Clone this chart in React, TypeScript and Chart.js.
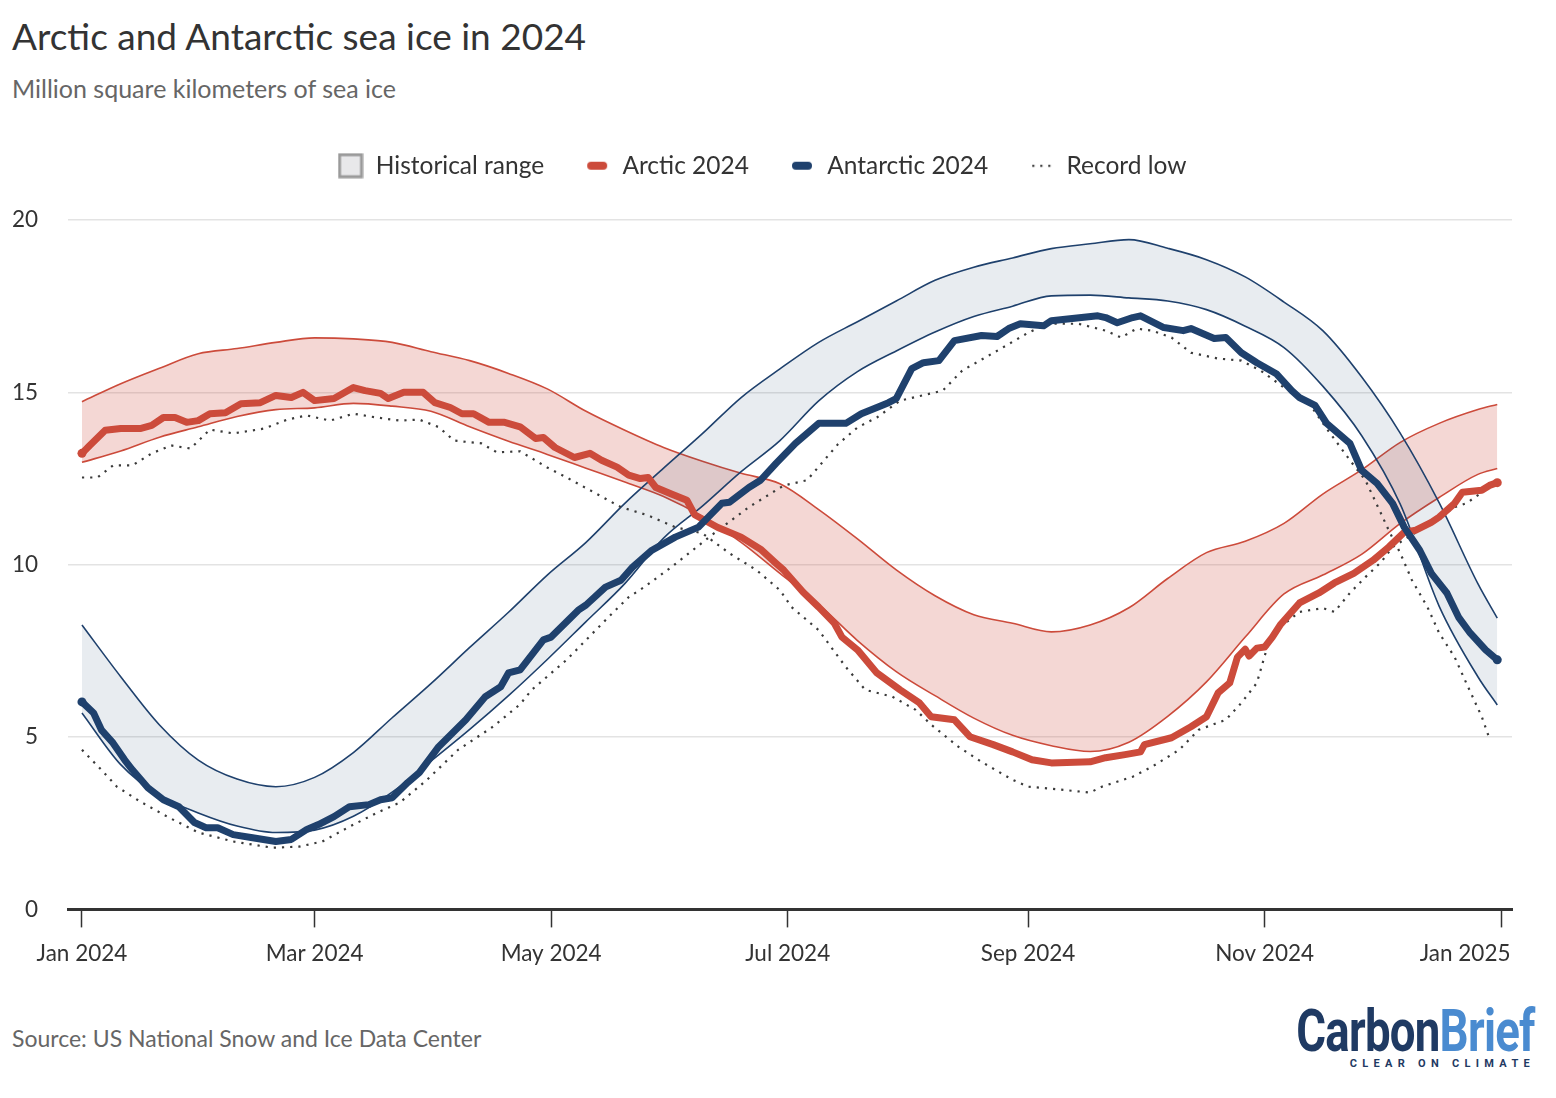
import React, { useEffect, useRef } from "react";
import { Chart, registerables } from "chart.js";

Chart.register(...registerables);

// ---------------- data ----------------
const xTickDays = [0, 60, 121, 182, 244, 305, 366];
const xTickLabels = ["Jan 2024", "Mar 2024", "May 2024", "Jul 2024", "Sep 2024", "Nov 2024", "Jan 2025"];
const yTickValues = [0, 5, 10, 15, 20];

const legendNames = ["Historical range", "Arctic 2024", "Antarctic 2024", "Record low"];

// day of year for the historical range samples
const bandDays = [0, 10, 20, 30, 40, 50, 60, 70, 80, 90, 100, 110, 120, 130, 140, 150, 160, 170, 180, 190, 200, 210, 220, 230, 240, 250, 260, 270, 280, 290, 300, 310, 320, 330, 340, 350, 360, 365];

const arcticMax = [14.73, 15.25, 15.7, 16.12, 16.27, 16.45, 16.58, 16.55, 16.45, 16.18, 15.92, 15.55, 15.1, 14.45, 13.9, 13.4, 13.0, 12.65, 12.35, 11.6, 10.75, 9.85, 9.1, 8.55, 8.3, 8.05, 8.25, 8.75, 9.6, 10.35, 10.68, 11.2, 12.05, 12.75, 13.55, 14.1, 14.5, 14.65];
const arcticMin = [12.97, 13.3, 13.7, 14.0, 14.3, 14.5, 14.55, 14.68, 14.6, 14.45, 14.0, 13.58, 13.2, 12.8, 12.4, 11.98, 11.4, 10.65, 9.75, 8.85, 7.8, 6.9, 6.2, 5.55, 5.05, 4.75, 4.58, 4.85, 5.6, 6.6, 7.9, 9.15, 9.7, 10.3, 11.2, 11.95, 12.62, 12.79];
const antarcticMax = [8.25, 6.75, 5.35, 4.33, 3.78, 3.56, 3.83, 4.55, 5.56, 6.55, 7.6, 8.62, 9.7, 10.65, 11.78, 12.8, 13.8, 14.85, 15.68, 16.45, 17.05, 17.65, 18.25, 18.63, 18.9, 19.17, 19.31, 19.43, 19.18, 18.85, 18.35, 17.62, 16.79, 15.45, 13.81, 11.8, 9.45, 8.45];
const antarcticMin = [5.7, 4.2, 3.3, 2.8, 2.42, 2.23, 2.3, 2.7, 3.4, 4.3, 5.22, 6.2, 7.25, 8.35, 9.45, 10.77, 11.7, 12.7, 13.6, 14.75, 15.6, 16.2, 16.75, 17.2, 17.5, 17.8, 17.82, 17.74, 17.65, 17.4, 16.92, 16.3, 15.18, 13.75, 11.75, 8.8, 6.75, 5.93];

// [day of year, million km²]
const arctic2024: [number, number][] = [
  [0, 13.23], [2, 13.46], [6, 13.9], [10, 13.95], [15, 13.95], [18, 14.04], [21, 14.27], [24, 14.27], [27, 14.13], [30, 14.18],
  [33, 14.38], [37, 14.41], [41, 14.67], [46, 14.7], [50, 14.91], [54, 14.85], [57, 15.0], [60, 14.76], [65, 14.82], [70, 15.14],
  [73, 15.05], [77, 14.97], [79, 14.82], [83, 15.0], [88, 15.0], [91, 14.7], [95, 14.56], [98, 14.38], [101, 14.38], [105, 14.13],
  [109, 14.13], [113, 14.0], [117, 13.66], [119, 13.69], [122, 13.4], [127, 13.11], [131, 13.23], [134, 13.03], [138, 12.83], [141, 12.6],
  [144, 12.5], [146, 12.53], [148, 12.24], [152, 12.05], [156, 11.87], [158, 11.45], [164, 11.08], [170, 10.8], [175, 10.45], [179, 10.04],
  [181, 9.84], [186, 9.2], [190, 8.77], [194, 8.31], [196, 7.9], [200, 7.53], [205, 6.86], [211, 6.37], [216, 5.99], [219, 5.59],
  [225, 5.5], [229, 5.01], [235, 4.78], [240, 4.57], [245, 4.34], [250, 4.25], [260, 4.28], [264, 4.4], [269, 4.49], [273, 4.57],
  [274, 4.78], [281, 4.98], [286, 5.3], [290, 5.59], [293, 6.28], [296, 6.57], [298, 7.32], [300, 7.55], [301, 7.35], [303, 7.58],
  [305, 7.61], [307, 7.9], [309, 8.25], [314, 8.89], [319, 9.18], [323, 9.47], [328, 9.75], [333, 10.13], [337, 10.51], [341, 10.94],
  [344, 11.0], [348, 11.23], [350, 11.38], [354, 11.78], [356, 12.1], [361, 12.16], [363, 12.3], [365, 12.38],
];

const antarctic2024: [number, number][] = [
  [0, 6.02], [3, 5.7], [5, 5.21], [8, 4.83], [11, 4.34], [13, 4.05], [17, 3.53], [21, 3.18], [25, 2.98], [29, 2.52],
  [32, 2.37], [35, 2.37], [39, 2.17], [44, 2.08], [50, 1.97], [54, 2.03], [58, 2.32], [61, 2.46], [65, 2.69], [69, 2.98],
  [74, 3.04], [77, 3.18], [80, 3.24], [84, 3.68], [87, 3.97], [92, 4.72], [99, 5.5], [104, 6.17], [108, 6.46], [110, 6.86],
  [113, 6.95], [119, 7.82], [121, 7.9], [128, 8.68], [130, 8.83], [135, 9.35], [139, 9.55], [142, 9.93], [147, 10.42], [153, 10.8],
  [159, 11.09], [165, 11.78], [167, 11.81], [172, 12.24], [175, 12.45], [179, 12.94], [184, 13.52], [190, 14.1], [197, 14.1], [201, 14.38],
  [205, 14.56], [208, 14.7], [210, 14.82], [214, 15.69], [217, 15.86], [221, 15.92], [225, 16.5], [232, 16.65], [236, 16.62], [239, 16.85],
  [242, 16.99], [248, 16.93], [250, 17.08], [262, 17.22], [264, 17.17], [267, 17.02], [271, 17.17], [273, 17.22], [279, 16.88], [284, 16.79],
  [286, 16.85], [292, 16.56], [295, 16.59], [299, 16.15], [303, 15.86], [308, 15.54], [312, 15.05], [314, 14.85], [318, 14.62], [321, 14.1],
  [324, 13.81], [327, 13.52], [330, 12.74], [334, 12.36], [338, 11.78], [341, 11.09], [345, 10.42], [348, 9.75], [352, 9.18], [355, 8.48],
  [358, 8.02], [362, 7.53], [365, 7.24],
];

const arcticRecordLow: [number, number][] = [
  [0, 12.53], [4, 12.53], [8, 12.88], [13, 12.88], [18, 13.23], [23, 13.46], [28, 13.37], [33, 13.92], [39, 13.81], [47, 13.95],
  [53, 14.21], [58, 14.33], [64, 14.18], [70, 14.38], [76, 14.27], [82, 14.18], [87, 14.21], [92, 13.99], [96, 13.6], [103, 13.52],
  [107, 13.26], [113, 13.29], [120, 12.82], [125, 12.53], [139, 11.67], [146, 11.43], [153, 11.09], [160, 10.91], [167, 10.33], [174, 9.84],
  [180, 9.26], [183, 8.77], [190, 8.1], [197, 7.03], [202, 6.37], [209, 6.17], [215, 5.79], [219, 5.36], [226, 4.72], [232, 4.28],
  [240, 3.76], [244, 3.56], [250, 3.5], [260, 3.39], [263, 3.56], [271, 3.85], [276, 4.14], [283, 4.63], [288, 5.21], [295, 5.5],
  [299, 5.99], [303, 6.57], [306, 7.73], [309, 8.19], [314, 8.63], [320, 8.74], [323, 8.63], [327, 9.18], [331, 9.64], [335, 10.07],
  [338, 10.51], [342, 10.8], [348, 11.2], [354, 11.67], [357, 11.78], [363, 12.25],
];

const antarcticRecordLow: [number, number][] = [
  [0, 4.63], [5, 4.05], [9, 3.56], [15, 3.13], [22, 2.69], [30, 2.23], [39, 1.97], [49, 1.79], [56, 1.82], [62, 1.97],
  [69, 2.4], [76, 2.8], [82, 3.1], [89, 3.76], [97, 4.63], [106, 5.3], [113, 5.95], [116, 6.37], [125, 7.24], [135, 8.39],
  [141, 9.06], [145, 9.35], [152, 9.93], [163, 10.91], [172, 11.67], [181, 12.3], [187, 12.45], [195, 13.5], [200, 13.98], [205, 14.27],
  [211, 14.76], [222, 15.05], [227, 15.63], [237, 16.27], [244, 16.73], [249, 16.99], [257, 16.99], [264, 16.79], [268, 16.59], [272, 16.85],
  [276, 16.79], [281, 16.59], [286, 16.15], [293, 15.98], [299, 15.92], [304, 15.63], [310, 15.14], [316, 14.76], [321, 13.95], [327, 13.03],
  [331, 12.45], [335, 11.49], [337, 11.0], [340, 10.33], [343, 9.55], [347, 8.77], [350, 8.02], [354, 7.32], [357, 6.57], [361, 5.59],
  [363, 4.95],
];

// ---------------- styling ----------------
const RED = "#cc4b3b";
const NAVY = "#1f416d";
const FONT = "Lato, 'Open Sans', sans-serif";

const toXY = (pts: [number, number][]) => pts.map(([x, y]) => ({ x, y }));
const bandXY = (vals: number[]) => bandDays.map((d, i) => ({ x: d, y: vals[i] }));

function makeMarker(kind: "box" | "line" | "dots", color = "#333"): HTMLCanvasElement {
  const c = document.createElement("canvas");
  c.width = 26;
  c.height = 26;
  const g = c.getContext("2d")!;
  if (kind === "box") {
    g.fillStyle = "#e8e8ea";
    g.fillRect(2, 2, 22, 22);
    g.strokeStyle = "#9a9a9a";
    g.lineWidth = 3;
    g.strokeRect(2, 2, 22, 22);
  } else if (kind === "line") {
    g.strokeStyle = color;
    g.lineWidth = 8;
    g.lineCap = "round";
    g.beginPath();
    g.moveTo(7, 13);
    g.lineTo(19, 13);
    g.stroke();
  } else {
    g.fillStyle = "#444";
    for (const cx of [5, 13, 21]) g.fillRect(cx - 1, 12, 2.2, 2.2);
  }
  return c;
}

const LEGEND_GAP = 32;
const LAST_LABEL_SHIFT = -36;

export default function App() {
  const ref = useRef<HTMLCanvasElement>(null);

  useEffect(() => {
    const canvas = ref.current;
    if (!canvas) return;

    const markers = [
      makeMarker("box"),
      makeMarker("line", RED),
      makeMarker("line", NAVY),
      makeMarker("dots"),
    ];

    const thick = (label: string, pts: [number, number][], color: string, order: number) => ({
      label,
      data: toXY(pts),
      borderColor: color,
      backgroundColor: color,
      borderWidth: 7,
      borderCapStyle: "round",
      borderJoinStyle: "round",
      tension: 0,
      fill: false,
      order,
      pointRadius: (c: any) => (c.dataIndex === 0 || c.dataIndex === pts.length - 1 ? 4.5 : 0),
      pointBorderWidth: 0,
      pointBackgroundColor: color,
      pointHoverRadius: 0,
    });

    const dotted = (label: string, pts: [number, number][], order: number) => ({
      label,
      data: toXY(pts),
      borderColor: "#3a3a3a",
      borderWidth: 2.2,
      borderDash: [2.2, 6],
      borderCapStyle: "butt",
      tension: 0,
      fill: false,
      pointRadius: 0,
      order,
    });

    const bandLine = (label: string, vals: number[], color: string, order: number, fill: any, bg: string) => ({
      label,
      data: bandXY(vals),
      borderColor: color,
      borderWidth: 1.6,
      backgroundColor: bg,
      cubicInterpolationMode: "monotone",
      fill,
      pointRadius: 0,
      order,
    });

    const legendSpacer = {
      id: "legendSpacer",
      beforeInit(chart: any) {
        const lg = chart.legend;
        if (!lg) return;
        const orig = lg.fit;
        lg.fit = function () {
          orig.call(this);
          this.height += LEGEND_GAP;
        };
      },
    };

    // keep the final "Jan 2025" label inside the plot, as in the source chart
    const lastLabelNudge = {
      id: "lastLabelNudge",
      beforeDraw(chart: any) {
        const s = chart.scales.x;
        if (!s) return;
        const items = s.getLabelItems(chart.chartArea);
        const last = items && items[items.length - 1];
        if (last && !last._nudged) {
          last.options.translation[0] += LAST_LABEL_SHIFT;
          last._nudged = true;
        }
      },
    };

    const chart = new Chart(canvas, {
      type: "line",
      data: {
        datasets: [
          thick("Antarctic 2024", antarctic2024, NAVY, 0) as any,
          thick("Arctic 2024", arctic2024, RED, 1) as any,
          dotted("Antarctic record low", antarcticRecordLow, 2) as any,
          dotted("Arctic record low", arcticRecordLow, 3) as any,
          bandLine("Antarctic max", antarcticMax, NAVY, 4, 5, "rgba(31,65,109,0.1)") as any,
          bandLine("Antarctic min", antarcticMin, NAVY, 5, false, "rgba(0,0,0,0)") as any,
          bandLine("Arctic max", arcticMax, RED, 6, 7, "rgba(204,75,59,0.22)") as any,
          bandLine("Arctic min", arcticMin, RED, 7, false, "rgba(0,0,0,0)") as any,
        ],
      },
      options: {
        animation: false,
        responsive: false,
        maintainAspectRatio: false,
        devicePixelRatio: 1,
        events: [],
        layout: { padding: { top: 13.5, left: 12, right: 44, bottom: 9.6 } },
        plugins: {
          tooltip: { enabled: false },
          title: { display: false },
          legend: {
            display: true,
            position: "top",
            align: "center",
            labels: {
              usePointStyle: true,
              pointStyleWidth: 26,
              boxHeight: 24,
              padding: 40,
              color: "#333",
              font: { family: FONT, size: 24.5 },
              generateLabels: () =>
                legendNames.map((text, i) => ({
                  text,
                  pointStyle: markers[i],
                  fillStyle: "rgba(0,0,0,0)",
                  strokeStyle: "rgba(0,0,0,0)",
                  lineWidth: 0,
                  hidden: false,
                  datasetIndex: i,
                  fontColor: "#333",
                })) as any,
            },
          },
        },
        scales: {
          x: {
            type: "linear",
            min: -3.6,
            max: 368.8,
            afterBuildTicks: (s: any) => {
              s.ticks = xTickDays.map((v) => ({ value: v }));
            },
            afterFit: (s: any) => {
              s.paddingLeft = 0;
              s.paddingRight = 0;
            },
            ticks: {
              autoSkip: false,
              maxRotation: 0,
              minRotation: 0,
              padding: 13,
              color: "#333",
              font: { family: FONT, size: 22.5 },
              callback: (v: any) => {
                const i = xTickDays.indexOf(Number(v));
                return i >= 0 ? xTickLabels[i] : "";
              },
            },
            grid: {
              display: true,
              drawOnChartArea: false,
              drawTicks: true,
              tickLength: 18,
              tickColor: "#333",
              tickWidth: 1.5,
            },
            border: { display: true, color: "#333", width: 3 },
          },
          y: {
            type: "linear",
            min: 0,
            max: 20,
            afterBuildTicks: (s: any) => {
              s.ticks = yTickValues.map((v) => ({ value: v }));
            },
            afterFit: (s: any) => {
              s.width = 56;
            },
            ticks: {
              padding: 30,
              color: "#333",
              font: { family: FONT, size: 22.5 },
              callback: (v: any) => String(v),
            },
            grid: {
              color: (c: any) => (c.tick && c.tick.value === 0 ? "rgba(0,0,0,0)" : "#e3e3e3"),
              lineWidth: 1.5,
              drawTicks: false,
            },
            border: { display: false },
          },
        },
      } as any,
      plugins: [legendSpacer as any, lastLabelNudge as any],
    });

    return () => chart.destroy();
  }, []);

  return (
    <div
      style={{
        position: "absolute",
        left: 0,
        top: 0,
        width: 1556,
        height: 1098,
        background: "#ffffff",
        fontFamily: FONT,
        overflow: "hidden",
      }}
    >
      <div style={{ position: "absolute", left: 12, top: 14, fontSize: 37, lineHeight: "44px", color: "#333", whiteSpace: "nowrap" }}>
        Arctic and Antarctic sea ice in 2024
      </div>
      <div style={{ position: "absolute", left: 12, top: 74, fontSize: 25, lineHeight: "28px", color: "#666", whiteSpace: "nowrap" }}>
        Million square kilometers of sea ice
      </div>
      <canvas
        ref={ref}
        width={1556}
        height={890}
        style={{ position: "absolute", left: 0, top: 100, width: 1556, height: 890 }}
      />
      <div style={{ position: "absolute", left: 12, top: 1024, fontSize: 23, lineHeight: "28px", color: "#666", whiteSpace: "nowrap" }}>
        Source: US National Snow and Ice Data Center
      </div>
      <div
        style={{
          position: "absolute",
          right: 21,
          top: 1001,
          fontFamily: "Roboto, sans-serif",
          fontWeight: 700,
          fontSize: 60,
          lineHeight: "60px",
          letterSpacing: "-1px",
          whiteSpace: "nowrap",
          transform: "scaleX(0.76)",
          transformOrigin: "right center",
        }}
      >
        <span style={{ color: "#1f3a63" }}>Carbon</span>
        <span style={{ color: "#4a8bd0" }}>Brief</span>
      </div>
      <div
        style={{
          position: "absolute",
          right: 21,
          top: 1058,
          fontFamily: "Roboto, sans-serif",
          fontWeight: 700,
          fontSize: 11,
          lineHeight: "12px",
          letterSpacing: "5.3px",
          color: "#1f3a63",
          whiteSpace: "nowrap",
        }}
      >
        CLEAR ON CLIMATE
      </div>
    </div>
  );
}
